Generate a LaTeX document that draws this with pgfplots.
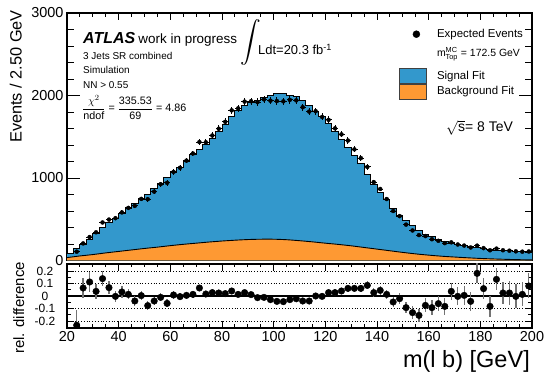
\documentclass[border=0pt]{standalone}
\usepackage{pgfplots}
\pgfplotsset{compat=1.18}
\usepackage{pgfplotstable}
\usepackage{amsmath}
\usepackage{fontspec}
\setmainfont{Liberation Sans}
\definecolor{sigblue}{RGB}{51,152,204}
\definecolor{bkgorange}{RGB}{254,153,51}

% total fit, bin left edges (2.5 GeV bins)
\pgfplotstableread{
x fit
20 85
22.5 140
25 195
27.5 255
30 330
32.5 405
35 465
37.5 515
40 565
42.5 630
45 690
47.5 745
50 805
52.5 870
55 935
57.5 1000
60 1065
62.5 1130
65 1205
67.5 1280
70 1350
72.5 1410
75 1475
77.5 1560
80 1650
82.5 1750
85 1820
87.5 1875
90 1910
92.5 1945
95 1975
97.5 1995
100 2020
102.5 2020
105 2005
107.5 1985
110 1935
112.5 1880
115 1810
117.5 1745
120 1660
122.5 1560
125 1470
127.5 1370
130 1270
132.5 1170
135 1045
137.5 925
140 830
142.5 735
145 630
147.5 550
150 480
152.5 420
155 365
157.5 320
160 285
162.5 255
165 230
167.5 212
170 195
172.5 180
175 165
177.5 152
180 142
182.5 135
185 127
187.5 121
190 116
192.5 111
195 106
197.5 101
200 101
}\fitdata

% background fit
\pgfplotstableread{
x bkg
20 35
25 55
30 72
35 92
40 110
45 128
50 146
55 162
60 180
65 196
70 210
75 224
80 236
85 246
90 254
95 258
100 258
105 252
110 240
115 226
120 210
125 195
130 178
135 158
140 138
145 118
150 98
155 80
160 65
165 52
170 42
175 33
180 25
185 19
190 14
195 10
200 7
}\bkgdata

% expected events: bin centre, events, error, rel. difference, its error
\pgfplotstableread{
xc data err rel relerr
23.75 107 11 -0.234 0.12
26.25 207 14 0.064 0.08
28.75 284 16 0.112 0.08
31.25 342 18 0.037 0.06
33.75 461 20 0.139 0.06
36.25 496 22 0.067 0.05
38.75 513 23 -0.003 0.045
41.25 583 24 0.032 0.045
43.75 638 25 0.013 0.04
46.25 662 26 -0.040 0.038
48.75 747 27 0.003 0.037
51.25 743 28 -0.077 0.035
53.75 835 30 -0.040 0.034
56.25 925 31 -0.011 0.033
58.75 941 32 -0.059 0.032
61.25 1074 33 0.008 0.031
63.75 1124 34 -0.005 0.030
66.25 1211 35 0.005 0.029
68.75 1297 36 0.013 0.028
71.25 1436 37 0.064 0.027
73.75 1433 38 0.016 0.027
76.25 1515 38 0.027 0.026
78.75 1597 40 0.024 0.025
81.25 1681 41 0.019 0.025
83.75 1820 42 0.040 0.024
86.25 1844 43 0.013 0.023
88.75 1926 43 0.027 0.023
91.25 1931 44 0.011 0.023
93.75 1920 44 -0.013 0.023
96.25 1953 44 -0.011 0.022
98.75 1937 45 -0.029 0.022
101.25 1933 45 -0.043 0.022
103.75 1929 45 -0.045 0.022
106.25 1947 45 -0.029 0.022
108.75 1941 45 -0.022 0.022
111.25 1858 44 -0.040 0.023
113.75 1805 43 -0.040 0.023
116.25 1810 43 0.000 0.024
118.75 1740 42 -0.003 0.024
121.25 1705 41 0.027 0.025
123.75 1602 40 0.027 0.025
126.25 1529 38 0.040 0.026
128.75 1454 37 0.061 0.027
131.25 1347 36 0.061 0.028
133.75 1241 34 0.061 0.029
136.25 1134 32 0.085 0.031
138.75 950 30 0.027 0.033
141.25 867 29 0.045 0.035
143.75 745 27 0.013 0.037
146.25 600 25 -0.048 0.040
148.75 538 23 -0.021 0.043
151.25 435 22 -0.093 0.046
153.75 364 20 -0.133 0.049
156.25 308 19 -0.155 0.052
158.75 296 18 -0.075 0.056
161.25 258 17 -0.093 0.059
163.75 239 16 -0.061 0.063
166.25 211 15 -0.083 0.066
168.75 220 15 0.037 0.069
171.25 194 14 -0.003 0.072
173.75 181 13 0.005 0.075
176.25 158 13 -0.043 0.078
178.75 180 12 0.181 0.081
181.25 150 12 0.059 0.084
183.75 124 12 -0.083 0.086
186.25 144 11 0.133 0.089
188.75 124 11 0.024 0.091
191.25 119 11 0.024 0.093
193.75 111 11 -0.003 0.095
196.25 107 10 0.013 0.097
198.75 109 10 0.080 0.100
}\meas

\pgfplotsset{
  atlasaxis/.style={
    scale only axis, width=465bp,
    xmin=20, xmax=200,
    xtick={20,40,...,200}, minor x tick num=3,
    tick align=inside,
    tick style={black, line width=0.9bp},
    axis line style={line width=1.3bp},
    /pgf/number format/assume math mode=true,
    /pgf/number format/1000 sep={},
  },
  dotlegend/.style={legend image code/.code={%
    \path[draw=none, fill=none] (0bp,10bp) rectangle (27bp,-9.5bp);
    \draw[black, only marks, mark=*, mark size=3.5bp] plot coordinates {(17.5bp,0bp)};}},
  emptylegend/.style={legend image code/.code={%
    \path[draw=none, fill=none] (0bp,9.8bp) rectangle (27bp,-15bp);}},
  siglegend/.style={legend image code/.code={%
    \filldraw[fill=sigblue, draw=black!75, line width=0.8bp] (0bp,-7.8bp) rectangle (27bp,7.2bp);}},
  bkglegend/.style={legend image code/.code={%
    \filldraw[fill=bkgorange, draw=black!75, line width=0.8bp] (0bp,-7.8bp) rectangle (27bp,7.2bp);}},
}

\begin{document}
\begin{tikzpicture}
\useasboundingbox (0,0) rectangle (545bp,372bp);

% ---------------- upper panel ----------------
\begin{axis}[atlasaxis,
  at={(67bp,111.5bp)}, anchor=south west, height=247.5bp,
  ymin=0, ymax=3000,
  ytick={0,1000,2000,3000}, minor y tick num=4,
  xticklabels={},
  major tick length=13bp, minor tick length=7bp,
  xtick style={/pgfplots/major tick length=7bp, /pgfplots/minor tick length=4bp},
  yticklabel style={font=\fontsize{14.5}{15}\selectfont},
  legend cell align=left,
  legend style={draw=none, fill=none, inner sep=0pt, row sep=0pt,
    at={(rel axis cs:0.7125,0.9556)}, anchor=north west,
    font=\fontsize{11.5}{12}\selectfont,
    nodes={inner sep=0pt, text height=8.3bp, text depth=2.4bp},
    /tikz/every odd column/.append style={column sep=10.7bp}},
]
\addlegendimage{dotlegend}
\addlegendentry{Expected Events}
\addlegendimage{emptylegend}
\addlegendentry{{\fontsize{10.5}{11}\selectfont$\text{m}^{\text{MC}}_{\text{Top}}$ = 172.5 GeV}}
\addlegendimage{siglegend}
\addlegendentry{Signal Fit}
\addlegendimage{bkglegend}
\addlegendentry{Background Fit}

\addplot[const plot, fill=sigblue, draw=none, forget plot] table[x=x, y=fit]{\fitdata} \closedcycle;
\addplot[smooth, fill=bkgorange, draw=none, forget plot] table[x=x, y=bkg]{\bkgdata} \closedcycle;
\addplot[smooth, black, line width=0.9bp, forget plot] table[x=x, y=bkg]{\bkgdata};
\addplot[const plot, black, line width=1bp, forget plot] table[x=x, y=fit]{\fitdata};
\addplot[black, only marks, mark=none, forget plot,
  error bars/.cd, x dir=both, x fixed=1.25, y dir=both, y explicit,
  error mark=none, error bar style={line width=0.9bp, black}]
  table[x=xc, y=data, y error=err]{\meas};
\end{axis}

% ---------------- ratio panel ----------------
\begin{axis}[atlasaxis,
  at={(67bp,44bp)}, anchor=south west, height=64bp,
  ymin=-0.256, ymax=0.256,
  ytick={-0.2,-0.1,0,0.1,0.2}, minor y tick num=1,
  major tick length=7bp, minor tick length=4bp,
  xtick style={/pgfplots/major tick length=7bp, /pgfplots/minor tick length=3.5bp},
  xticklabel style={font=\fontsize{14.5}{15}\selectfont},
  yticklabel style={font=\fontsize{12}{13}\selectfont, anchor=center, xshift=-22bp},
]
\addplot[black, dotted, line width=0.8bp] coordinates {(20,0.2) (200,0.2)};
\addplot[black, dotted, line width=0.8bp] coordinates {(20,0.1) (200,0.1)};
\addplot[black, dotted, line width=0.8bp] coordinates {(20,-0.1) (200,-0.1)};
\addplot[black, dotted, line width=0.8bp] coordinates {(20,-0.2) (200,-0.2)};
\addplot[black, line width=1.8bp] coordinates {(20,0) (200,0)};
\addplot[black, only marks, mark=*, mark size=3.3bp,
  error bars/.cd, y dir=both, y explicit, error mark=none,
  error bar style={line width=1.3bp, black!55}]
  table[x=xc, y=rel, y error=relerr]{\meas};
\end{axis}

% ---------------- texts ----------------
\node[anchor=base west, inner sep=0pt] at (83bp,328bp)
  {{\fontsize{16}{17}\selectfont\bfseries\itshape ATLAS}\,\,{\fontsize{13.5}{14}\selectfont work in progress}};
\node[anchor=base west, inner sep=0pt, font=\fontsize{10}{11}\selectfont] at (83bp,312.5bp) {3 Jets SR combined};
\node[anchor=base west, inner sep=0pt, font=\fontsize{10}{11}\selectfont] at (83bp,298bp) {Simulation};
\node[anchor=base west, inner sep=0pt, font=\fontsize{10}{11}\selectfont] at (83bp,283.5bp) {NN > 0.55};
\node[anchor=west, inner sep=0pt, font=\fontsize{10.8}{11}\selectfont] at (82bp,264.7bp)
  {$\dfrac{\chi^{2}}{\text{ndof}} \text{ = } \dfrac{\text{335.53}}{\text{69}}$ = 4.86};
\node[inner sep=0pt] at (251bp,329.5bp) {\fontsize{20}{20}\selectfont$\displaystyle\int$};
\node[anchor=base west, inner sep=0pt, font=\fontsize{13}{14}\selectfont] at (258bp,317bp) {Ldt=20.3 fb\textsuperscript{-1}};
\node[anchor=base west, inner sep=0pt, font=\fontsize{14}{15}\selectfont] at (446bp,240bp) {$\sqrt{\text{s}}$= 8 TeV};

\node[rotate=90, anchor=base east, inner sep=0pt, font=\fontsize{16.4}{17}\selectfont] at (21.5bp,362bp) {Events / 2.50 GeV};
\node[rotate=90, anchor=base, inner sep=0pt, font=\fontsize{15}{16}\selectfont] at (24bp,64bp) {rel. difference};
\node[anchor=base east, inner sep=0pt, font=\fontsize{23.6}{24}\selectfont] at (530bp,5bp) {m(l b) [GeV]};
\end{tikzpicture}
\end{document}
